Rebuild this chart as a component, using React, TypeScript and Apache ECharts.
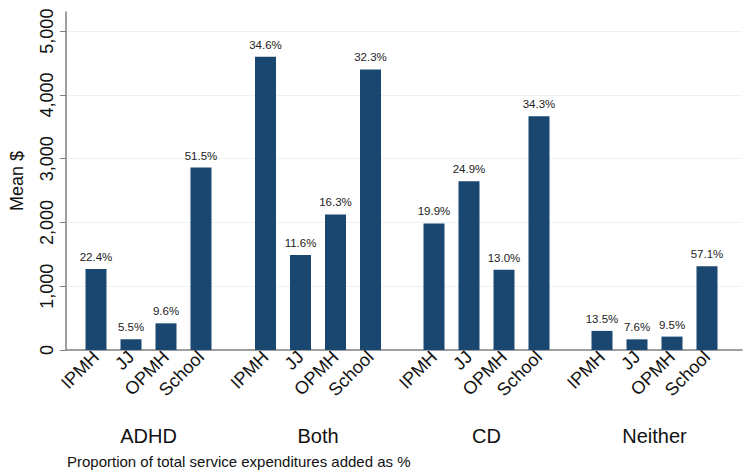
import React, { useEffect, useRef } from "react";
import * as echarts from "echarts";

const groups = ["ADHD", "Both", "CD", "Neither"];
const services = ["IPMH", "JJ", "OPMH", "School"];
const meanADHD = [1270, 168, 418, 2860];
const meanBoth = [4600, 1490, 2125, 4400];
const meanCD = [1985, 2645, 1260, 3665];
const meanNeither = [300, 167, 210, 1315];
const pctADHD = [22.4, 5.5, 9.6, 51.5];
const pctBoth = [34.6, 11.6, 16.3, 32.3];
const pctCD = [19.9, 24.9, 13.0, 34.3];
const pctNeither = [13.5, 7.6, 9.5, 57.1];
const yTicks = [0, 1000, 2000, 3000, 4000, 5000];
const footnote = "Proportion of total service expenditures added as %";

const means = [meanADHD, meanBoth, meanCD, meanNeither];
const pcts = [pctADHD, pctBoth, pctCD, pctNeither];

const BAR = "#1a476f";
const FONT = "'Liberation Sans', Arial, sans-serif";
const Y_MAX = 5300;

export default function App() {
  const ref = useRef<HTMLDivElement>(null);
  useEffect(() => {
    document.body.style.margin = "0";
    if (!ref.current) return;
    const chart = echarts.init(ref.current, null, { renderer: "svg" });
    const top = 12;
    const bottom = 125;
    const subLefts = [78.5, 248, 416.5, 584.5];
    const subWidth = 140;

    const grids: any[] = [{ left: 62, right: 8, top, bottom }];
    const xAxes: any[] = [
      {
        gridIndex: 0,
        type: "value",
        min: 0,
        max: 1,
        axisLine: { show: true, lineStyle: { color: "#808080", width: 1.5 } },
        axisTick: { show: false },
        axisLabel: { show: false },
        splitLine: { show: false },
      },
    ];
    const yAxes: any[] = [
      {
        gridIndex: 0,
        type: "value",
        min: 0,
        max: Y_MAX,
        interval: 1000,
        name: "Mean $",
        nameLocation: "middle",
        nameRotate: 90,
        nameGap: 40,
        nameTextStyle: { fontSize: 18, color: "#111", fontFamily: FONT },
        axisLine: { show: true, lineStyle: { color: "#808080", width: 1.5 } },
        axisTick: { show: true, length: 6, lineStyle: { color: "#808080" } },
        axisLabel: {
          rotate: 90,
          fontSize: 18,
          color: "#111",
          fontFamily: FONT,
          margin: 10,
          showMaxLabel: false,
          formatter: (v: number) =>
            yTicks.includes(v) ? v.toLocaleString("en-US") : "",
        },
        splitLine: {
          show: true,
          showMaxLine: false,
          showMinLine: false,
          lineStyle: { color: "#eaf2f3", width: 1 },
        },
      },
    ];
    const series: any[] = [];

    groups.forEach((g, gi) => {
      const idx = gi + 1;
      grids.push({ left: subLefts[gi], width: subWidth, top, bottom });
      xAxes.push({
        gridIndex: idx,
        type: "category",
        data: services,
        name: g,
        nameLocation: "middle",
        nameGap: 76,
        nameTextStyle: { fontSize: 20, color: "#111", fontFamily: FONT },
        axisLine: { show: false },
        axisTick: { show: false },
        axisLabel: {
          rotate: 45,
          fontSize: 18,
          color: "#111",
          fontFamily: FONT,
          margin: 4,
          interval: 0,
        },
      });
      yAxes.push({
        gridIndex: idx,
        type: "value",
        min: 0,
        max: Y_MAX,
        show: false,
        splitLine: { show: false },
      });
      series.push({
        type: "bar",
        xAxisIndex: idx,
        yAxisIndex: idx,
        barWidth: 21,
        itemStyle: { color: BAR },
        data: means[gi].map((v, i) => ({ value: v, pct: pcts[gi][i] })),
        label: {
          show: true,
          position: "top",
          distance: 6,
          fontSize: 11.5,
          color: "#222",
          fontFamily: FONT,
          formatter: (p: any) => pcts[gi][p.dataIndex].toFixed(1) + "%",
        },
      });
    });

    chart.setOption({
      animation: false,
      backgroundColor: "#ffffff",
      grid: grids,
      xAxis: xAxes,
      yAxis: yAxes,
      series,
      graphic: [
        {
          type: "text",
          left: 67,
          top: 454,
          style: {
            text: footnote,
            fontSize: 15,
            fill: "#111",
            fontFamily: FONT,
          },
        },
      ],
    });
    return () => chart.dispose();
  }, []);
  return <div ref={ref} style={{ width: 750, height: 475 }} />;
}
